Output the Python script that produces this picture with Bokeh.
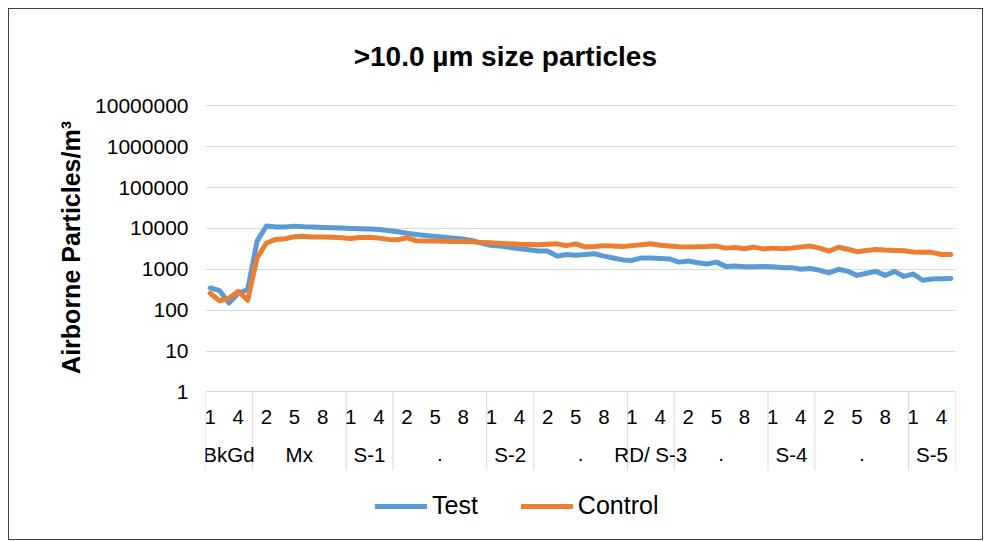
import math
from bokeh.plotting import figure
from bokeh.models import (Range1d, FixedTicker, NumeralTickFormatter, Title, Legend,
                          LegendItem)
from bokeh.core.properties import value
from bokeh.embed import file_html
from bokeh.resources import INLINE

# ---------------- data ----------------
title_text = ">10.0 µm size particles"
y_label = "Airborne Particles/m³"
series_names = ["Test", "Control"]
groups = ["BkGd", "Mx", "S-1", ".", "S-2", ".", "RD/ S-3", ".", "S-4", ".", "S-5"]
group_sizes = [5, 10, 5, 10, 5, 10, 5, 10, 5, 10, 5]
y_ticks = [1, 10, 100, 1000, 10000, 100000, 1000000, 10000000]

test = [
    350, 300, 150, 260, 320,
    4900, 11500, 10800, 10800, 11400, 11000, 10800, 10600, 10400, 10300,
    10000, 9800, 9700, 9400, 8900,
    8300, 7600, 7100, 6700, 6400, 6100, 5800, 5500, 5000, 4300,
    3800, 3700, 3400, 3200, 3000,
    2800, 2800, 2100, 2300, 2200, 2300, 2400, 2100, 1900, 1700,
    1650, 1900, 1900, 1850, 1800,
    1500, 1600, 1450, 1350, 1500, 1180, 1200, 1150, 1150, 1180,
    1150, 1100, 1100, 1000, 1050,
    950, 815, 1000, 900, 710, 800, 890, 710, 890, 670,
    770, 540, 580, 590, 600,
]
control = [
    260, 170, 195, 290, 175,
    1900, 4400, 5400, 5600, 6300, 6400, 6200, 6200, 6100, 5900,
    5700, 6000, 6100, 5800, 5400,
    5300, 5900, 5000, 4950, 4900, 4850, 4800, 4800, 4700, 4500,
    4450, 4300, 4200, 4100, 4050,
    4000, 4100, 4200, 3800, 4200, 3530, 3600, 3800, 3700, 3600,
    3800, 4000, 4200, 3900, 3700,
    3550, 3500, 3550, 3600, 3700, 3300, 3400, 3200, 3500, 3160,
    3300, 3200, 3300, 3500, 3700,
    3300, 2770, 3480, 3100, 2700, 2900, 3040, 2950, 2900, 2850,
    2650, 2600, 2600, 2300, 2300,
]

# ---------------- layout ----------------
W, H = 975, 532                # host box incl. 1px border
ORIGIN_X, ORIGIN_Y = 9, 9      # canvas origin on the page
CW, CH = W - 2, H - 2          # canvas size
ML, MR, MT, MB = 196, 29, 0, 0
DEC = 40.71                    # px per decade on the log axis
TOP_GRID_PAGE = 105            # page y of the top gridline
FONT = "Liberation Sans"

n = sum(group_sizes)
xs = list(range(n))
sub_labels = []
for s in group_sizes:
    sub_labels += [str(k) for k in range(1, s + 1)]

top_dec = math.log10(y_ticks[-1])
frame_top = ORIGIN_Y + MT
frame_bottom = ORIGIN_Y + CH - MB
y_hi = 10 ** (top_dec + (TOP_GRID_PAGE - frame_top) / DEC)
y_lo = 10 ** (top_dec - (frame_bottom - TOP_GRID_PAGE) / DEC)
y1_page = TOP_GRID_PAGE + top_dec * DEC
px_x = (CW - ML - MR) / n


def ydown(px):
    return 10 ** (-px / DEC)


def y_at_page(page_y):
    return 10 ** ((y1_page - page_y) / DEC)


def x_at_page(page_x):
    return -0.5 + (page_x - ORIGIN_X - ML) / px_x


p = figure(width=W, height=H, output_backend="svg", toolbar_location=None,
           y_axis_type="log", x_axis_location=None,
           x_range=Range1d(-0.5, n - 0.5), y_range=Range1d(y_lo, y_hi),
           min_border_left=ML, min_border_right=MR, min_border_top=MT,
           min_border_bottom=MB, background_fill_color="white",
           border_fill_color="white", outline_line_color=None)
p.styles = {"margin-left": "8px", "margin-top": "8px", "border": "1px solid #404040"}

yax = p.yaxis[0]
yax.ticker = FixedTicker(ticks=y_ticks, minor_ticks=[])
yax.formatter = NumeralTickFormatter(format="0")
yax.axis_line_color = None
yax.major_tick_line_color = None
yax.minor_tick_line_color = None
yax.major_tick_out = 0
yax.major_tick_in = 0
yax.minor_tick_out = 0
yax.minor_tick_in = 0
yax.major_label_standoff = 17
yax.major_label_text_font = FONT
yax.major_label_text_font_size = "21px"
yax.major_label_text_color = "#000000"

p.ygrid.ticker = FixedTicker(ticks=y_ticks, minor_ticks=[])
p.ygrid.grid_line_color = "#d9d9d9"
p.ygrid.grid_line_width = 1
p.xgrid.visible = False

# group separators below the axis
bounds = [-0.5]
acc = 0
for s in group_sizes:
    acc += s
    bounds.append(acc - 0.5)
p.segment(x0=bounds, y0=[1] * len(bounds), x1=bounds, y1=[ydown(78)] * len(bounds),
          line_color="#d9d9d9", line_width=1)

# sub-category labels (every third category)
lab_idx = [i for i in xs if i % 3 == 0]
p.text(x=lab_idx, y=[ydown(25)] * len(lab_idx), text=[sub_labels[i] for i in lab_idx],
       text_align="center", text_baseline="middle", text_font=value(FONT),
       text_font_size=value("20.5px"), text_color="#000000")

# group labels
centers = []
start = 0
for s in group_sizes:
    centers.append(start + (s - 1) / 2)
    start += s
p.text(x=centers, y=[ydown(62)] * len(centers), text=groups,
       text_align="center", text_baseline="middle", text_font=value(FONT),
       text_font_size=value("20.5px"), text_color="#000000")

# series
r_test = p.line(xs, test, line_color="#5b9bd5", line_width=5,
                line_join="round", line_cap="round")
r_ctrl = p.line(xs, control, line_color="#ed7d31", line_width=5,
                line_join="round", line_cap="round")

legend = Legend(items=[LegendItem(label=series_names[0], renderers=[r_test]),
                       LegendItem(label=series_names[1], renderers=[r_ctrl])],
                orientation="horizontal", location=(170, 21),
                border_line_color=None, background_fill_alpha=0,
                label_text_font=FONT, label_text_font_size="25px",
                label_text_color="#000000", glyph_width=52, glyph_height=24,
                label_standoff=5, spacing=43, padding=0, margin=0)
p.add_layout(legend, "center")

# chart title (inside the extended top of the frame)
p.text(x=[x_at_page(504)], y=[y_at_page(56)], text=[title_text],
       text_align="center", text_baseline="middle", text_font=value(FONT),
       text_font_size=value("28px"), text_font_style="bold", text_color="#000000")

# vertical axis title
ylab_size = 25
ylab_len = 10.11 * ylab_size
p.add_layout(Title(text=y_label, align="left", vertical_align="bottom",
                   offset=frame_bottom - (245 + ylab_len / 2), standoff=16,
                   text_font=FONT, text_font_size=f"{ylab_size}px",
                   text_font_style="bold", text_color="#000000"), "left")

open("out.html", "w").write(file_html(p, INLINE))
